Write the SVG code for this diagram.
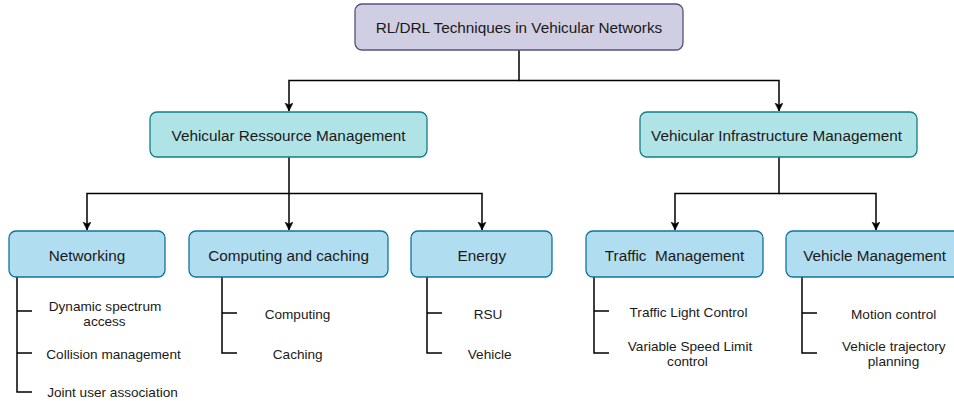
<svg xmlns="http://www.w3.org/2000/svg" width="954" height="401" viewBox="0 0 954 401">
<style>
text{font-family:"Liberation Sans",Arial,sans-serif;fill:#1a1a1a;text-anchor:middle}
.h{font-size:15.3px}
.s{font-size:13.6px}
.root{fill:#d0cee2;stroke:#56517e;stroke-width:1.3}
.l2{fill:#b0e3e6;stroke:#0e8088;stroke-width:1.3}
.l3{fill:#b1ddf0;stroke:#10739e;stroke-width:1.3}
.c{fill:none;stroke:#000;stroke-width:1.5}
</style>
<defs>
<marker id="arr" markerWidth="10" markerHeight="10" refX="8" refY="4" orient="auto" markerUnits="userSpaceOnUse">
<path d="M0,0 L8,4 L0,8 L2,4 z" fill="#000" stroke="#000" stroke-width="0.5"/>
</marker>
</defs>
<g id="connectors">
<path class="c" d="M519,50 V80.5 H289 V111" marker-end="url(#arr)"/>
<path class="c" d="M519,80.5 H779 V111" marker-end="url(#arr)"/>
<path class="c" d="M289,157 V193.5 H87 V230" marker-end="url(#arr)"/>
<path class="c" d="M289,193.5 V230" marker-end="url(#arr)"/>
<path class="c" d="M289,193.5 H482 V230" marker-end="url(#arr)"/>
<path class="c" d="M779,157 V193.5 H675 V230" marker-end="url(#arr)"/>
<path class="c" d="M779,193.5 H876 V230" marker-end="url(#arr)"/>
<path class="c" d="M17,277 V392 H32 M17,311 H32 M17,353 H32"/>
<path class="c" d="M222,277 V353 H237 M222,313 H237"/>
<path class="c" d="M427,277 V353 H442 M427,313 H442"/>
<path class="c" d="M594,277 V353 H609 M594,311 H609"/>
<path class="c" d="M802,277 V353 H817 M802,313 H817"/>
</g>
<g id="root"><rect class="root" x="355" y="4" width="328" height="46" rx="7"/><text class="h" x="519" y="33">RL/DRL Techniques in Vehicular Networks</text></g>
<g id="vrm"><rect class="l2" x="150" y="112" width="277" height="45" rx="7"/><text class="h" x="288.5" y="140.5">Vehicular Ressource Management</text></g>
<g id="vim"><rect class="l2" x="640" y="112" width="277" height="45" rx="7"/><text class="h" x="776.5" y="140.5">Vehicular Infrastructure Management</text></g>
<g id="networking"><rect class="l3" x="9" y="231" width="156" height="46" rx="7"/><text class="h" x="87" y="260.5">Networking</text></g>
<g id="computing"><rect class="l3" x="189" y="231" width="199" height="46" rx="7"/><text class="h" x="288.6" y="260.5">Computing and caching</text></g>
<g id="energy"><rect class="l3" x="411" y="231" width="141" height="46" rx="7"/><text class="h" x="481.8" y="260.5">Energy</text></g>
<g id="traffic"><rect class="l3" x="586" y="231" width="177" height="46" rx="7"/><text class="h" x="674.5" y="260.5" xml:space="preserve">Traffic  Management</text></g>
<g id="vehicle"><rect class="l3" x="786" y="231" width="180" height="46" rx="7"/><text class="h" x="874.7" y="260.5">Vehicle Management</text></g>
<g id="net-items">
<text class="s" x="105" y="310.5">Dynamic spectrum</text>
<text class="s" x="104.5" y="325.5">access</text>
<text class="s" x="113.5" y="359">Collision management</text>
<text class="s" x="112.5" y="397">Joint user association</text>
</g>
<g id="comp-items">
<text class="s" x="297.5" y="318.5">Computing</text>
<text class="s" x="297.7" y="359">Caching</text>
</g>
<g id="energy-items">
<text class="s" x="488" y="318.5">RSU</text>
<text class="s" x="489.7" y="359">Vehicle</text>
</g>
<g id="traffic-items">
<text class="s" x="688.5" y="316.5">Traffic Light Control</text>
<text class="s" x="690" y="350.5">Variable Speed Limit</text>
<text class="s" x="687.5" y="366">control</text>
</g>
<g id="vehicle-items">
<text class="s" x="893.7" y="318.5">Motion control</text>
<text class="s" x="893.8" y="350.5">Vehicle trajectory</text>
<text class="s" x="893.5" y="366">planning</text>
</g>
</svg>
